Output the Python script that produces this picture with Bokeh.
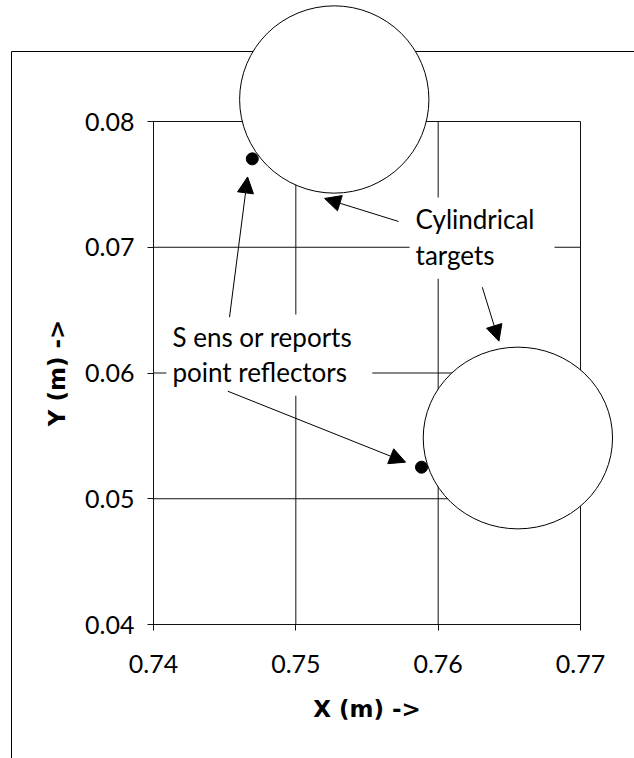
from bokeh.plotting import figure
from bokeh.models import Range1d, Label, Arrow, NormalHead, FixedTicker, ColumnDataSource, PrintfTickFormatter
from bokeh.embed import file_html
from bokeh.resources import INLINE

# ---------------- data ----------------
x_ticks = [0.74, 0.75, 0.76, 0.77]
y_ticks = [0.04, 0.05, 0.06, 0.07, 0.08]
x_tick_labels = ["0.74", "0.75", "0.76", "0.77"]
y_tick_labels = ["0.04", "0.05", "0.06", "0.07", "0.08"]

# cylindrical targets (centre, width, height in metres)
target_x = [0.75270, 0.76560]
target_y = [0.08175, 0.05483]
target_w = [0.01330, 0.01330]
target_h = [0.01490, 0.01445]

# point reflectors reported by the sensor
reflector_x = [0.74694, 0.75883]
reflector_y = [0.07703, 0.05251]

# annotation arrows
arrow_x0 = [0.75722, 0.76310, 0.74534, 0.74522]
arrow_y0 = [0.07205, 0.06682, 0.06444, 0.05855]
arrow_x1 = [0.75202, 0.76427, 0.74661, 0.75771]
arrow_y1 = [0.07388, 0.06253, 0.07559, 0.05291]

label_targets = "Cylindrical\ntargets"
label_sensor = "S ens or reports\npoint reflectors"
label_targets_pos = (0.75799, 0.07396)
label_sensor_pos = (0.74091, 0.06465)

# ---------------- layout ----------------
W, H = 634, 758
BOX_L, BOX_R, BOX_T, BOX_B = 153, 580, 121, 624
FRAME_L_PX, FRAME_T_PX = 11, 51

sx = (BOX_R - BOX_L) / (x_ticks[-1] - x_ticks[0])
sy = (BOX_B - BOX_T) / (y_ticks[-1] - y_ticks[0])
x_start = x_ticks[0] - BOX_L / sx
x_end = x_ticks[-1] + (W - BOX_R) / sx
y_end = y_ticks[-1] + BOX_T / sy
y_start = y_ticks[0] - (H - BOX_B) / sy
frame_x = x_start + FRAME_L_PX / sx
frame_y = y_end - FRAME_T_PX / sy

p = figure(width=W, height=H, x_range=Range1d(x_start, x_end), y_range=Range1d(y_start, y_end),
           output_backend="svg", toolbar_location=None, min_border=0)
p.outline_line_color = None
p.grid.visible = False
p.background_fill_color = "white"
p.border_fill_color = "white"

FONT = "Lato"
LINE = "#111111"

# axes
p.xaxis.fixed_location = y_ticks[0]
p.xaxis.bounds = (x_ticks[0], x_ticks[-1])
p.xaxis.ticker = FixedTicker(ticks=x_ticks)
p.xaxis.major_label_overrides = {t: s for t, s in zip(x_ticks, x_tick_labels)}
p.yaxis.fixed_location = x_ticks[0]
p.yaxis.bounds = (y_ticks[0], y_ticks[-1])
p.yaxis.ticker = FixedTicker(ticks=y_ticks)
p.yaxis.major_label_overrides = {t: s for t, s in zip(y_ticks, y_tick_labels)}
p.axis.formatter = PrintfTickFormatter(format="%.2f")
p.axis.minor_tick_line_color = None
p.axis.major_tick_in = 0
p.axis.major_tick_out = 6
p.axis.axis_line_color = LINE
p.axis.major_tick_line_color = LINE
p.axis.major_label_text_font = FONT
p.axis.major_label_text_font_size = "25px"
p.axis.major_label_text_color = "black"
p.xaxis.major_label_standoff = 24
p.yaxis.major_label_standoff = 13
p.xaxis.axis_label = "X (m) ->"
p.yaxis.axis_label = "Y (m) ->"
p.axis.axis_label_text_font = "DejaVu Sans"
p.axis.axis_label_text_font_style = "bold"
p.axis.axis_label_text_font_size = "23px"
p.axis.axis_label_text_color = "black"
p.xaxis.axis_label_standoff = 20
p.yaxis.axis_label_standoff = 12

# outer frame
p.segment(x0=[frame_x, frame_x], y0=[frame_y, frame_y], x1=[x_end, frame_x], y1=[frame_y, y_start],
          line_color="black", line_width=1)

# grid + plot box
p.segment(x0=x_ticks, x1=x_ticks, y0=[y_ticks[0]] * len(x_ticks), y1=[y_ticks[-1]] * len(x_ticks),
          line_color=LINE, line_width=1)
p.segment(x0=[x_ticks[0]] * len(y_ticks), x1=[x_ticks[-1]] * len(y_ticks), y0=y_ticks, y1=y_ticks,
          line_color=LINE, line_width=1)

# targets
p.ellipse(x=target_x, y=target_y, width=target_w, height=target_h,
          fill_color="white", line_color="black", line_width=1)

# reflectors
p.scatter(x=reflector_x, y=reflector_y, size=12, fill_color="black", line_color="black")

# labels
for txt, (lx, ly) in [(label_targets, label_targets_pos), (label_sensor, label_sensor_pos)]:
    p.add_layout(Label(x=lx, y=ly, text=txt, text_align="left", text_baseline="top",
                       text_font=FONT, text_font_size="26px", text_color="black",
                       text_line_height=1.1, background_fill_color="white",
                       padding=dict(left=6, right=20, top=6, bottom=8)))

# arrows
asrc = ColumnDataSource(dict(x0=arrow_x0, y0=arrow_y0, x1=arrow_x1, y1=arrow_y1))
p.add_layout(Arrow(source=asrc, x_start="x0", y_start="y0", x_end="x1", y_end="y1",
                   line_color="black", line_width=1,
                   end=NormalHead(size=16, fill_color="black", line_color="black", line_width=1)))

open("out.html", "w").write(file_html(p, INLINE))
